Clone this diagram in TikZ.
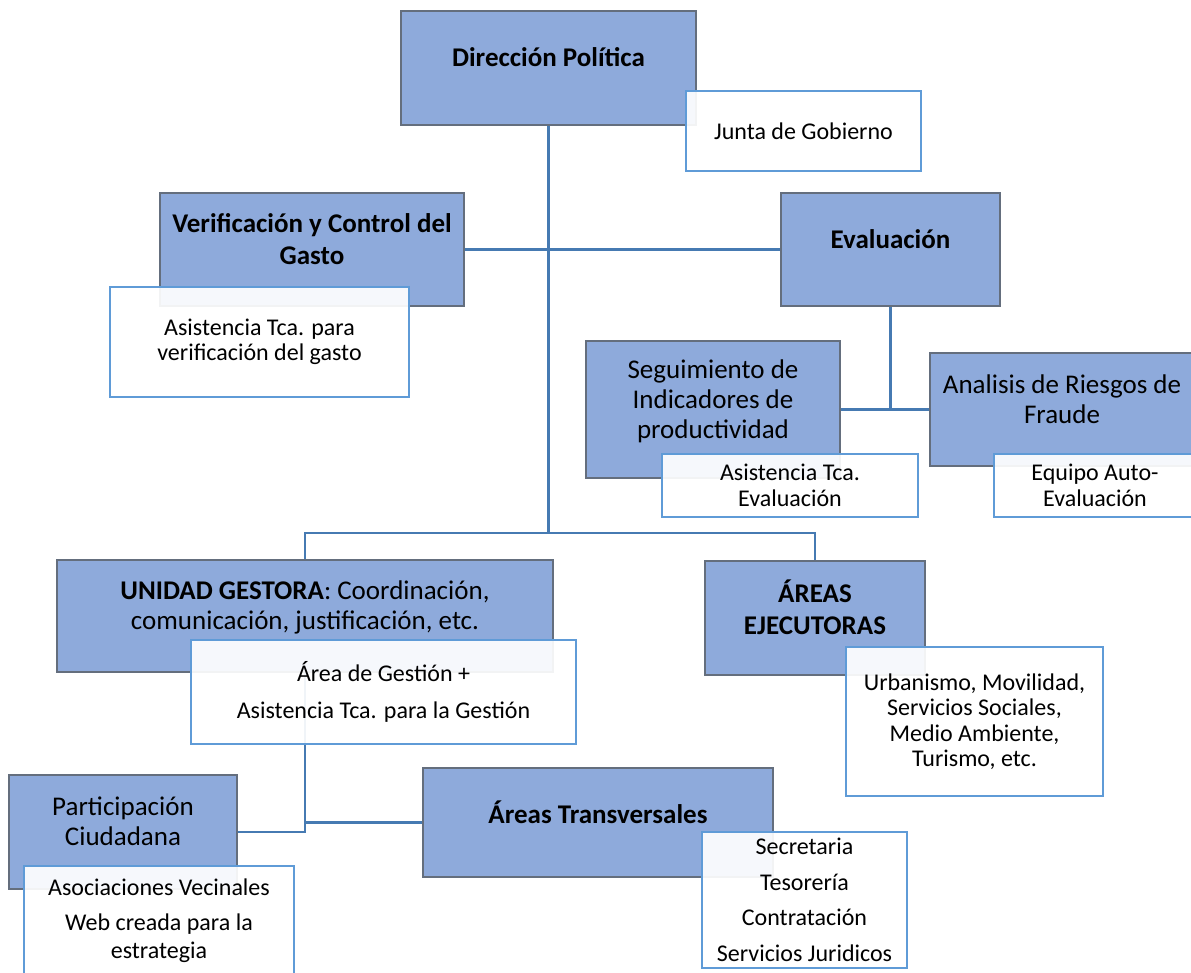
\documentclass[tikz,border=0pt]{standalone}
\usepackage{fontspec}
\setmainfont{Carlito}
\usepackage{tikz}
\usetikzlibrary{positioning,calc,backgrounds}
\definecolor{boxblue}{RGB}{142,170,219}
\definecolor{boxline}{RGB}{100,110,125}
\definecolor{subline}{RGB}{95,155,215}
\definecolor{linkblue}{RGB}{70,122,178}
\tikzset{
    mainbox/.style={draw=boxline, line width=1.2pt, fill=boxblue, align=center, inner sep=2pt,
        font=\fontsize{27}{30}\selectfont, execute at end node={\rule[-21pt]{0pt}{0pt}}},
    headbox/.style={mainbox, font=\fontsize{27}{32}\selectfont\bfseries},
    subbox/.style={draw=subline, line width=1.2pt, fill=white, fill opacity=0.92, text opacity=1,
        align=center, inner sep=2pt, font=\fontsize{24}{25.5}\selectfont},
    link/.style={draw=linkblue, line width=2.6pt}
}

\begin{document}
\begin{tikzpicture}[x=1pt, y=-1pt]
    \useasboundingbox (0,0) rectangle (1191,972);

    \node[headbox, minimum width=295, minimum height=114] (dir) at (548.5,68) {Dirección Política};
    \node[headbox, minimum width=304, minimum height=113] (verif) at (312,249.5) {Verificación y Control del\\Gasto};
    \node[headbox, minimum width=219, minimum height=113] (eval) at (890.5,249.5) {Evaluación};
    \node[mainbox, minimum width=254, minimum height=137] (segui) at (713,409.5) {Seguimiento de\\Indicadores de\\productividad};
    \node[mainbox, minimum width=264, minimum height=113] (riesgo) at (1062,409.5) {Analisis de Riesgos de\\Fraude};
    \node[mainbox, minimum width=496, minimum height=112] (gest) at (305,616) {\textbf{UNIDAD GESTORA}: Coordinación,\\comunicación, justificación, etc.};
    \node[headbox, minimum width=220, minimum height=114] (ejec) at (815,618) {ÁREAS\\EJECUTORAS};
    \node[mainbox, minimum width=228, minimum height=114] (partic) at (123,832) {Participación\\Ciudadana};
    \node[headbox, minimum width=350, minimum height=109] (transv) at (598,822.5) {Áreas Transversales};

    \node[subbox, minimum width=235, minimum height=80] (junta) at (803.5,131) {Junta de Gobierno};
    \node[subbox, minimum width=299, minimum height=110] (verifsub) at (259.5,342) {Asistencia Tca. para\\verificación del gasto};
    \node[subbox, minimum width=256, minimum height=63] (seguisub) at (790,485.5) {Asistencia Tca.\\Evaluación};
    \node[subbox, minimum width=202, minimum height=63] (riesgosub) at (1095,485.5) {Equipo Auto-\\Evaluación};
    \node[subbox, minimum width=385, minimum height=104] (gestsub) at (383.5,692) {Área de Gestión +\\[11pt]Asistencia Tca. para la Gestión};
    \node[subbox, minimum width=257, minimum height=149] (ejecsub) at (974.5,721.5) {Urbanismo, Movilidad,\\Servicios Sociales,\\Medio Ambiente,\\Turismo, etc.};
    \node[subbox, minimum width=270, minimum height=110] (particsub) at (159,921) {Asociaciones Vecinales\\[9pt]Web creada para la\\[3pt]estrategia};
    \node[subbox, minimum width=205, minimum height=136] (transvsub) at (804.5,900) {Secretaria\\[10pt]Tesorería\\[10pt]Contratación\\[10pt]Servicios Juridicos};

    \coordinate (hub) at (548.5,533);

    \begin{scope}[on background layer]
        \draw[link] (dir.south) -- (hub);
        \draw[link] (verif.east) -- (eval.west);
        \draw[link] (eval.south) -- (eval.south |- segui.east);
        \draw[link] (segui.east) -- (riesgo.west);
        \draw[link] (gest.north) |- (hub) -| (ejec.north);
        \draw[link] (gest.south) |- (partic.east);
        \draw[link] (gest.south |- transv.west) -- (transv.west);
    \end{scope}
\end{tikzpicture}
\end{document}
